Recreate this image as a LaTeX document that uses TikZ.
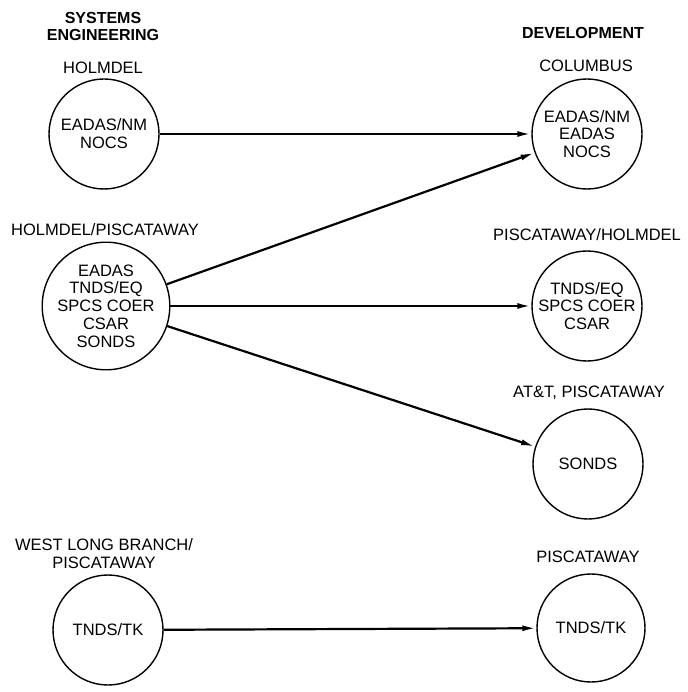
\documentclass[tikz,border=0pt]{standalone}
\usepackage{fontspec}
\setmainfont{Liberation Sans}
\usetikzlibrary{arrows.meta}
\begin{document}
\begin{tikzpicture}[x=1pt,y=-1pt,
  site/.style={circle,draw,line width=1.4pt,inner sep=0pt,align=center,
    font=\fontsize{16.5}{17.8}\selectfont},
  place/.style={font=\fontsize{16.5}{17.3}\selectfont,align=center,inner sep=0pt},
  head/.style={font=\bfseries\fontsize{16}{17}\selectfont,align=center,inner sep=0pt},
  flow/.style={line width=2.2pt,-{Latex[length=14pt,width=6pt]}}
]
\useasboundingbox (0,0) rectangle (687,692);

% column headings
\node[head] (se)  at (103,26.5) {SYSTEMS\\ENGINEERING};
\node[head] (dev) at (583,33)   {DEVELOPMENT};

% systems engineering sites
\node[place] (lholm) at (103,68) {HOLMDEL};
\node[site,minimum size=110pt] (holm) at (104,134) {EADAS/NM\\NOCS};
\node[place] (lhp) at (105,230) {HOLMDEL/PISCATAWAY};
\node[site,minimum size=124pt] (hp) at (106,306) {EADAS\\TNDS/EQ\\SPCS COER\\CSAR\\SONDS};
\node[place] (lwlb) at (104,553.5) {WEST LONG BRANCH/\\PISCATAWAY};
\node[site,minimum size=110pt] (wlb) at (108,630) {TNDS/TK};

% development sites
\node[place] (lcol) at (586,66) {COLUMBUS};
\node[site,minimum size=110pt] (col) at (587,134) {EADAS/NM\\EADAS\\NOCS};
\node[place] (lph) at (587,235) {PISCATAWAY/HOLMDEL};
\node[site,minimum size=110pt] (ph) at (587,306) {TNDS/EQ\\SPCS COER\\CSAR};
\node[place] (latt) at (589,393) {AT\&T, PISCATAWAY};
\node[site,minimum size=110pt] (att) at (588,464) {SONDS};
\node[place] (lpis) at (588,557) {PISCATAWAY};
\node[site,minimum size=108pt] (pis) at (591,628) {TNDS/TK};

% hand-offs
\draw[flow] (holm) -- (col);
\draw[flow] (hp) -- (col);
\draw[flow] (hp) -- (ph);
\draw[flow] (hp) -- (att);
\draw[flow] (wlb) -- (pis);
\end{tikzpicture}
\end{document}
